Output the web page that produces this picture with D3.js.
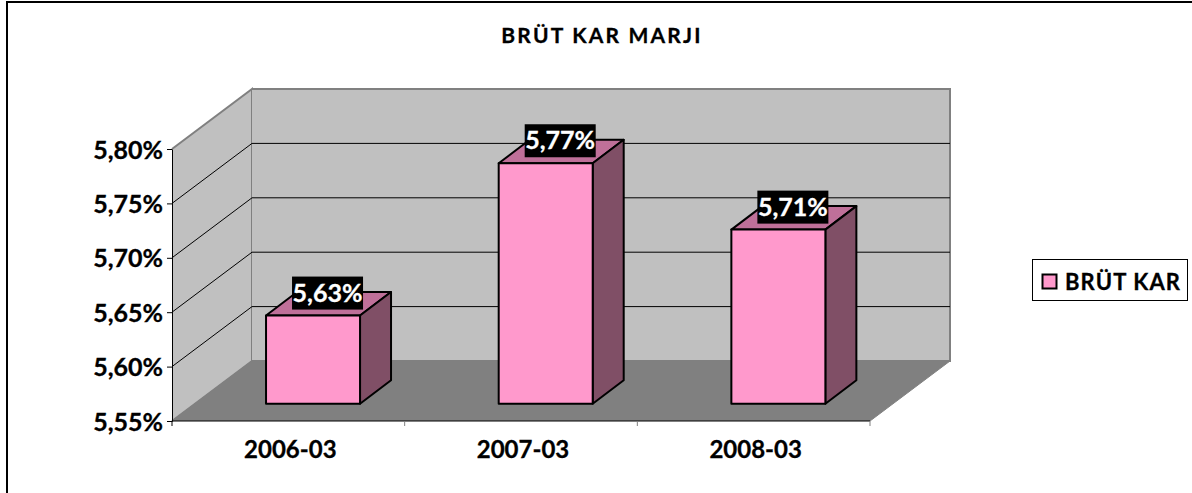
<!DOCTYPE html>
<html>
<head>
<meta charset="utf-8">
<script src="https://cdn.jsdelivr.net/npm/d3@7"></script>
<style>
  html, body { margin: 0; background: #fff; }
  svg { display: block; }
  text { font-family: Lato, sans-serif; font-weight: 700; fill: #000; stroke: #000; stroke-width: 0.3px; }
</style>
</head>
<body>
<svg></svg>
<script>
const categories = ["2006-03", "2007-03", "2008-03"];
const values = [5.631, 5.771, 5.71];
const valueLabels = ["5,63%", "5,77%", "5,71%"];
const yTicks = [5.55, 5.60, 5.65, 5.70, 5.75, 5.80];
const seriesName = "BRÜT KAR";
const chartTitle = "BRÜT KAR MARJI";

const width = 1192, height = 493;
const wallDepth = { x: 80, y: -60 };
const barDepth = { x: 31, y: -23.5 };
const barWidth = 94;
const barShift = { x: 24.7, y: -17.3 };

const svg = d3.select("svg").attr("width", width).attr("height", height);

// Scales
const xScale = d3.scaleBand().domain(categories).range([172, 870]);
const yScale = d3.scaleLinear().domain([5.55, 5.80]).range([421, 149]);
const line = d3.line();

// Outer frame, only top and left show in the picture
svg.append("path")
  .attr("d", line([[7, height], [7, 2], [width, 2]]))
  .attr("fill", "none").attr("stroke", "#000").attr("stroke-width", 2);

svg.append("text")
  .attr("x", 602).attr("y", 43)
  .attr("text-anchor", "middle")
  .attr("font-size", 21)
  .attr("letter-spacing", 2.2)
  .text(chartTitle);

// Walls and floor
const x0 = xScale.range()[0], x1 = xScale.range()[1];
const yTop = yScale(5.80), yBot = yScale(5.55);
const d = wallDepth;

svg.append("path")
  .attr("d", line([[x0, yTop], [x0 + d.x, yTop + d.y], [x0 + d.x, yBot + d.y], [x0, yBot]]))
  .attr("fill", "#c0c0c0").attr("stroke", "#808080").attr("stroke-width", 2);
svg.append("path")
  .attr("d", line([[x0 + d.x, yTop + d.y], [x1 + d.x, yTop + d.y], [x1 + d.x, yBot + d.y], [x0 + d.x, yBot + d.y]]))
  .attr("fill", "#c0c0c0").attr("stroke", "#808080").attr("stroke-width", 2);
svg.append("path")
  .attr("d", line([[x0, yBot], [x0 + d.x, yBot + d.y], [x1 + d.x, yBot + d.y], [x1, yBot]]))
  .attr("fill", "#808080").attr("stroke", "#808080");

// Gridlines
svg.append("g").selectAll("path")
  .data(yTicks.slice(1, -1))
  .join("path")
    .attr("d", t => line([[x0, yScale(t)], [x0 + d.x, yScale(t) + d.y], [x1 + d.x, yScale(t) + d.y]]))
    .attr("fill", "none")
    .attr("stroke", "#000")
    .attr("stroke-width", 1);

// Axes
const yAxis = svg.append("g")
  .attr("transform", `translate(${x0},0)`)
  .call(d3.axisLeft(yScale).tickValues(yTicks).tickSize(5).tickSizeOuter(0)
    .tickFormat(t => d3.format(".2f")(t).replace(".", ",") + "%"));
yAxis.selectAll("text").attr("font-size", 25).attr("x", -9).attr("dy", "0.36em");
yAxis.selectAll("line,path").attr("stroke", "#000");

svg.append("path")
  .attr("d", line([[x0, yBot], [x1, yBot]])).attr("stroke", "#000");
svg.append("g").selectAll("line")
  .data([0, 1, 2, 3])
  .join("line")
    .attr("x1", i => x0 + i * xScale.bandwidth())
    .attr("x2", i => x0 + i * xScale.bandwidth())
    .attr("y1", yBot).attr("y2", yBot + 5)
    .attr("stroke", i => i === 0 ? "#000" : "#808080");
svg.append("g").selectAll("text")
  .data(categories)
  .join("text")
    .attr("x", c => xScale(c) + xScale.bandwidth() / 2 + 2)
    .attr("y", 458)
    .attr("text-anchor", "middle")
    .attr("font-size", 24)
    .text(c => c);

// Bars
const bars = svg.append("g").selectAll("g")
  .data(categories.map((c, i) => ({ c, v: values[i], label: valueLabels[i] })))
  .join("g");

const barLeft = r => xScale(r.c) + xScale.bandwidth() / 2 + barShift.x - barWidth / 2;
const barTop = r => yScale(r.v) + barShift.y;
const barBot = yBot + barShift.y;
const b = barDepth;

bars.append("path")
  .attr("d", r => {
    const l = barLeft(r), t = barTop(r);
    return line([[l, t], [l + b.x, t + b.y], [l + barWidth + b.x, t + b.y], [l + barWidth, t]]) + "Z";
  })
  .attr("fill", "#bf7099");
bars.append("path")
  .attr("d", r => {
    const rr = barLeft(r) + barWidth, t = barTop(r);
    return line([[rr, t], [rr + b.x, t + b.y], [rr + b.x, barBot + b.y], [rr, barBot]]) + "Z";
  })
  .attr("fill", "#804f66");
bars.append("rect")
  .attr("x", barLeft).attr("y", barTop)
  .attr("width", barWidth).attr("height", r => barBot - barTop(r))
  .attr("fill", "#ff99cc");
bars.selectAll("path,rect")
  .attr("stroke", "#000").attr("stroke-width", 2).attr("stroke-linejoin", "round");

// Value labels
bars.append("rect")
  .attr("x", r => barLeft(r) + 26).attr("y", r => barTop(r) - 39)
  .attr("width", 71).attr("height", 33)
  .attr("fill", "#000");
bars.append("text")
  .attr("x", r => barLeft(r) + 61.5).attr("y", r => barTop(r) - 14)
  .attr("text-anchor", "middle")
  .attr("font-size", 25)
  .style("fill", "#fff").style("stroke", "#fff")
  .text(r => r.label);

// Legend
svg.append("rect")
  .attr("x", 1032.5).attr("y", 259.5).attr("width", 155).attr("height", 41)
  .attr("fill", "#fff").attr("stroke", "#000");
svg.append("rect")
  .attr("x", 1042.5).attr("y", 274.5).attr("width", 14).attr("height", 14)
  .attr("fill", "#ff99cc").attr("stroke", "#000").attr("stroke-width", 2);
svg.append("text")
  .attr("x", 1065).attr("y", 290)
  .attr("font-size", 22)
  .attr("letter-spacing", 1.1)
  .text(seriesName);
</script>
</body>
</html>
